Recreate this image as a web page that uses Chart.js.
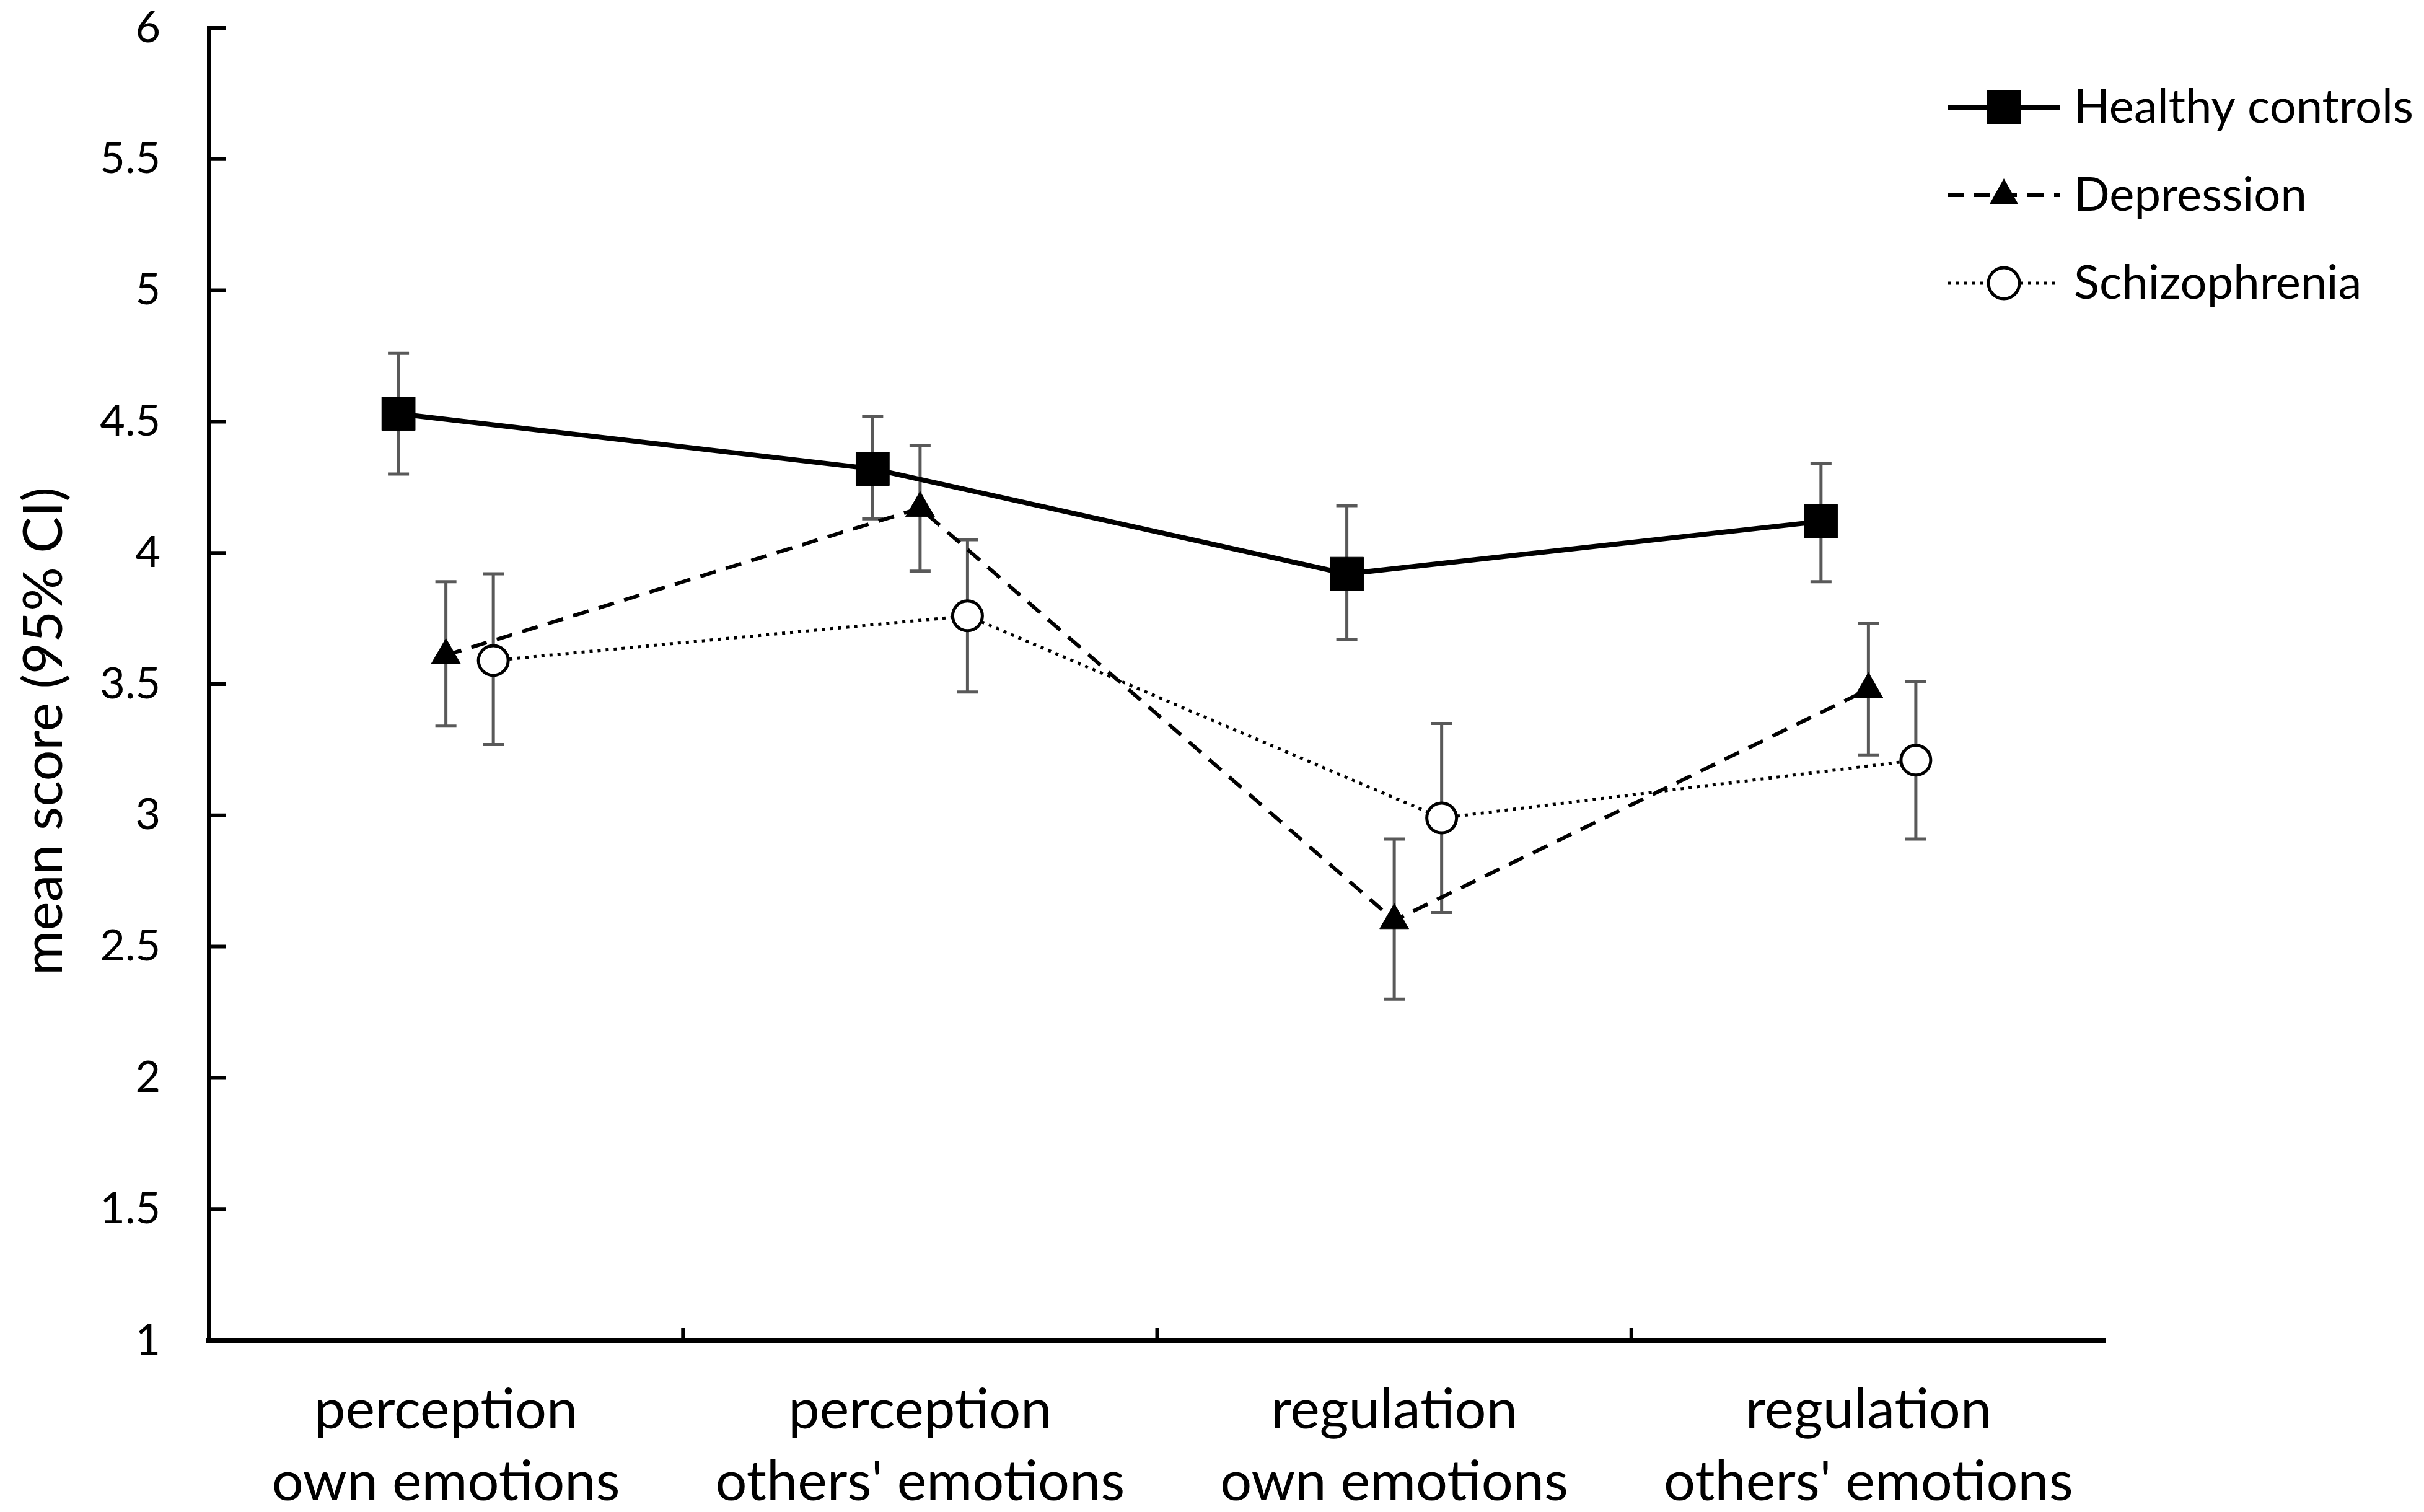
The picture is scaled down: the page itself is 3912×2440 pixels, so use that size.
<!DOCTYPE html>
<html lang="en">
<head>
    <meta charset="UTF-8">
    <title>Emotional competence by group</title>
    <script src="https://cdn.jsdelivr.net/npm/chart.js"></script>
    <style>
        body { margin: 0; background: #fff; }
        #wrap { width: 3912px; height: 2440px; }
    </style>
</head>
<body>
    <div id="wrap"><canvas id="myChart"></canvas></div>

    <script>
        // categories on the x axis (two lines each)
        const categories = [
            ['perception', 'own emotions'],
            ['perception', "others' emotions"],
            ['regulation', 'own emotions'],
            ['regulation', "others' emotions"]
        ];
        const yTicks = [1, 1.5, 2, 2.5, 3, 3.5, 4, 4.5, 5, 5.5, 6];
        const yTitle = 'mean score (95% CI)';

        // mean and 95% CI per group
        const healthyMean = [4.53, 4.32, 3.92, 4.12];
        const healthyLow = [4.30, 4.13, 3.67, 3.89];
        const healthyHigh = [4.76, 4.52, 4.18, 4.34];

        const depressionMean = [3.61, 4.17, 2.60, 3.48];
        const depressionLow = [3.34, 3.93, 2.30, 3.23];
        const depressionHigh = [3.89, 4.41, 2.91, 3.73];

        const schizMean = [3.59, 3.76, 2.99, 3.21];
        const schizLow = [3.27, 3.47, 2.63, 2.91];
        const schizHigh = [3.92, 4.05, 3.35, 3.51];

        const groupNames = ['Healthy controls', 'Depression', 'Schizophrenia'];
        const groupShift = [-0.1, 0, 0.1]; // small horizontal dodge per group

        const FONT = 'Lato, "Noto Sans", sans-serif';

        function points(means, g) {
            return means.map((v, i) => ({ x: i + 0.5 + groupShift[g], y: v }));
        }

        const ciLow = [healthyLow, depressionLow, schizLow];
        const ciHigh = [healthyHigh, depressionHigh, schizHigh];

        // error bars, drawn under the markers
        const errorBars = {
            id: 'errorBars',
            beforeDatasetsDraw(chart) {
                const ctx = chart.ctx;
                const xs = chart.scales.x, ys = chart.scales.y;
                ctx.save();
                ctx.strokeStyle = '#595959';
                ctx.lineWidth = 5;
                chart.data.datasets.forEach((ds, g) => {
                    ds.data.forEach((p, i) => {
                        const x = xs.getPixelForValue(p.x);
                        const y1 = ys.getPixelForValue(ciLow[g][i]);
                        const y2 = ys.getPixelForValue(ciHigh[g][i]);
                        ctx.beginPath();
                        ctx.moveTo(x, y1); ctx.lineTo(x, y2);
                        ctx.moveTo(x - 17, y1); ctx.lineTo(x + 17, y1);
                        ctx.moveTo(x - 17, y2); ctx.lineTo(x + 17, y2);
                        ctx.stroke();
                    });
                });
                ctx.restore();
            }
        };

        // inward tick marks and the y title
        const axisExtras = {
            id: 'axisExtras',
            afterDatasetsDraw(chart) {
                const ctx = chart.ctx;
                const xs = chart.scales.x, ys = chart.scales.y;
                const a = chart.chartArea;
                ctx.save();
                ctx.strokeStyle = '#000';
                ctx.lineWidth = 6;
                ctx.beginPath();
                yTicks.forEach(v => {
                    const y = ys.getPixelForValue(v);
                    ctx.moveTo(a.left, y); ctx.lineTo(a.left + 27, y);
                });
                [1, 2, 3].forEach(v => {
                    const x = xs.getPixelForValue(v);
                    ctx.moveTo(x, a.bottom); ctx.lineTo(x, a.bottom - 20);
                });
                ctx.stroke();

                ctx.translate(72, 1180);
                ctx.rotate(-Math.PI / 2);
                ctx.fillStyle = '#000';
                ctx.font = '88px ' + FONT;
                ctx.textAlign = 'center';
                ctx.textBaseline = 'middle';
                ctx.fillText(yTitle, 0, 0);
                ctx.restore();
            }
        };

        function drawMarker(ctx, style, x, y) {
            ctx.save();
            ctx.fillStyle = '#000';
            ctx.strokeStyle = '#000';
            ctx.setLineDash([]);
            ctx.beginPath();
            if (style === 'rect') {
                ctx.rect(x - 27, y - 27, 54, 54);
                ctx.fill();
            } else if (style === 'triangle') {
                ctx.moveTo(x, y - 27);
                ctx.lineTo(x + 23.5, y + 15);
                ctx.lineTo(x - 23.5, y + 15);
                ctx.closePath();
                ctx.fill();
            } else {
                ctx.arc(x, y, 25, 0, Math.PI * 2);
                ctx.fillStyle = '#fff';
                ctx.fill();
                ctx.lineWidth = 5;
                ctx.stroke();
            }
            ctx.restore();
        }

        // legend: line sample with marker in the middle
        const lineLegend = {
            id: 'lineLegend',
            afterDraw(chart) {
                const ctx = chart.ctx;
                const x0 = 3143, x1 = 3325, tx = 3347;
                const rows = [173, 315, 457];
                ctx.save();
                chart.data.datasets.forEach((ds, g) => {
                    const y = rows[g];
                    ctx.strokeStyle = '#000';
                    ctx.lineWidth = ds.borderWidth;
                    ctx.setLineDash(ds.borderDash || []);
                    ctx.beginPath();
                    ctx.moveTo(x0, y); ctx.lineTo(x1, y);
                    ctx.stroke();
                    drawMarker(ctx, ds.pointStyle, (x0 + x1) / 2, y);
                    ctx.fillStyle = '#000';
                    ctx.font = '76px ' + FONT;
                    ctx.textBaseline = 'middle';
                    ctx.textAlign = 'left';
                    ctx.fillText(ds.label, tx, y);
                });
                ctx.restore();
            }
        };

        const ctx = document.getElementById('myChart').getContext('2d');
        const chart = new Chart(ctx, {
            type: 'line',
            data: {
                datasets: [{
                    label: groupNames[0],
                    data: points(healthyMean, 0),
                    borderColor: '#000',
                    borderWidth: 8,
                    pointStyle: 'rect',
                    pointRadius: 38,
                    pointBackgroundColor: '#000',
                    pointBorderColor: '#000',
                    pointBorderWidth: 1
                }, {
                    label: groupNames[1],
                    data: points(depressionMean, 1),
                    borderColor: '#000',
                    borderWidth: 6,
                    borderDash: [26, 17],
                    pointStyle: 'triangle',
                    pointRadius: 27,
                    pointBackgroundColor: '#000',
                    pointBorderColor: '#000',
                    pointBorderWidth: 1
                }, {
                    label: groupNames[2],
                    data: points(schizMean, 2),
                    borderColor: '#000',
                    borderWidth: 5,
                    borderDash: [5, 8],
                    pointStyle: 'circle',
                    pointRadius: 24,
                    pointBackgroundColor: '#fff',
                    pointBorderColor: '#000',
                    pointBorderWidth: 5
                }]
            },
            options: {
                responsive: true,
                maintainAspectRatio: false,
                devicePixelRatio: 1,
                animation: false,
                layout: {
                    padding: { top: 45, right: 514, left: 0, bottom: 0 }
                },
                plugins: {
                    legend: { display: false },
                    tooltip: { enabled: false }
                },
                scales: {
                    x: {
                        type: 'linear',
                        min: 0,
                        max: 4,
                        afterBuildTicks(scale) {
                            scale.ticks = [0, 0.5, 1, 1.5, 2, 2.5, 3, 3.5, 4].map(v => ({ value: v }));
                        },
                        afterFit(scale) { scale.height = 277; },
                        grid: { display: false, drawTicks: false },
                        border: { display: true, color: '#000', width: 8 },
                        ticks: {
                            autoSkip: false,
                            maxRotation: 0,
                            padding: 55,
                            color: '#000',
                            font: { family: FONT, size: 90, lineHeight: 1.29 },
                            callback: v => Number.isInteger(v) ? '' : categories[Math.floor(v)]
                        }
                    },
                    y: {
                        min: 1,
                        max: 6,
                        afterBuildTicks(scale) {
                            scale.ticks = yTicks.map(v => ({ value: v }));
                        },
                        afterFit(scale) {
                            scale.width = 337;
                            scale.paddingTop = 0;
                            scale.paddingBottom = 0;
                        },
                        grid: { display: false, drawTicks: false },
                        border: { display: true, color: '#000', width: 6 },
                        ticks: {
                            padding: 78,
                            color: '#000',
                            font: { family: FONT, size: 70 },
                            callback: v => String(v)
                        }
                    }
                }
            },
            plugins: [errorBars, axisExtras, lineLegend]
        });
    </script>
</body>
</html>
